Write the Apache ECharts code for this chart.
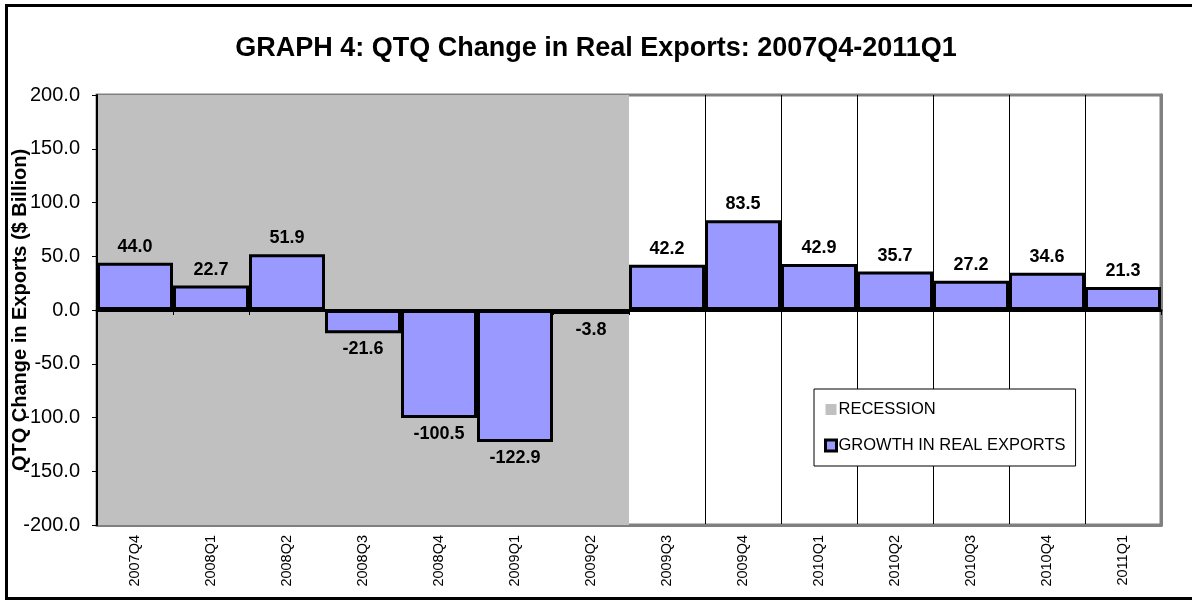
<!DOCTYPE html>
<html>
<head>
<meta charset="utf-8">
<title>GRAPH 4</title>
<script src="https://cdn.jsdelivr.net/npm/echarts@6/dist/echarts.min.js"></script>
<style>
    html, body { margin: 0; padding: 0; background: #fff; }
    #chart { width: 1192px; height: 601px; }
</style>
</head>
<body>
<div id="chart"></div>
<script>
const quarters = ['2007Q4', '2008Q1', '2008Q2', '2008Q3', '2008Q4', '2009Q1', '2009Q2',
    '2009Q3', '2009Q4', '2010Q1', '2010Q2', '2010Q3', '2010Q4', '2011Q1'];
const exportsGrowth = [44.0, 22.7, 51.9, -21.6, -100.5, -122.9, -3.8,
    42.2, 83.5, 42.9, 35.7, 27.2, 34.6, 21.3];
const recession = [1, 1, 1, 1, 1, 1, 1, 0, 0, 0, 0, 0, 0, 0]; // 1 = recession quarter
const yTicks = { min: -200, max: 200, step: 50 };

const FONT = '"Liberation Sans", Arial, sans-serif';
const BAR_COLOR = '#9999FF';
const GRAY = '#C0C0C0';

const myChart = echarts.init(document.getElementById('chart'));

// vertical grid lines only after the recession shading
const lastRecession = recession.lastIndexOf(1);

const option = {
    animation: false,
    textStyle: { fontFamily: FONT },
    title: {
        text: 'GRAPH 4: QTQ Change in Real Exports: 2007Q4-2011Q1',
        left: 'center',
        top: 30,
        textStyle: { fontFamily: FONT, fontSize: 27, fontWeight: 'bold', color: '#000' }
    },
    graphic: [{
        // outer frame of the picture
        type: 'rect',
        shape: { x: 6.5, y: 5.5, width: 1200, height: 593 },
        style: { fill: 'none', stroke: '#000', lineWidth: 3 },
        z: 100
    }],
    legend: {
        orient: 'vertical',
        left: 814,
        top: 389,
        width: 259,
        padding: [12, 10, 12, 10],
        itemGap: 19,
        itemWidth: 11,
        itemHeight: 11,
        icon: 'rect',
        backgroundColor: '#fff',
        borderColor: '#000',
        borderWidth: 1,
        textStyle: { fontFamily: FONT, fontSize: 16.5, color: '#000', padding: [0, 0, 0, -3] },
        data: [
            { name: 'RECESSION', itemStyle: { color: GRAY, borderWidth: 0 } },
            { name: 'GROWTH IN REAL EXPORTS', itemStyle: { color: BAR_COLOR, borderColor: '#000', borderWidth: 3 } }
        ]
    },
    grid: {
        left: 97,
        right: 31, // 14 bands of 76px
        top: 95,
        bottom: 76,
        containLabel: false,
        outerBoundsMode: 'none',
        show: true,
        borderColor: '#808080',
        borderWidth: 3,
        backgroundColor: 'transparent'
    },
    xAxis: [{
        type: 'category',
        data: quarters,
        position: 'bottom',
        z: 0,
        axisLine: { onZero: false, lineStyle: { color: '#808080', width: 3 } },
        axisTick: { show: false },
        axisLabel: {
            rotate: 90,
            interval: 0,
            margin: 10,
            fontSize: 14.5,
            color: '#000',
            fontFamily: FONT
        },
        splitLine: {
            show: true,
            interval: idx => idx > lastRecession + 1,
            lineStyle: { color: '#000', width: 1 }
        }
    }, {
        // zero line with small ticks, drawn above the recession shading
        type: 'category',
        data: quarters,
        position: 'top',
        z: 5,
        axisLine: { onZero: true, lineStyle: { color: '#000', width: 3 } },
        axisTick: { show: true, inside: true, length: 5, interval: 0, lineStyle: { color: '#000', width: 1 } },
        axisLabel: { show: false },
        splitLine: { show: false }
    }],
    yAxis: [{
        type: 'value',
        min: yTicks.min,
        max: yTicks.max,
        interval: yTicks.step,
        z: 5,
        name: 'QTQ Change in Exports ($ Billion)',
        nameLocation: 'middle',
        nameRotate: 90,
        nameGap: 67,
        nameMoveOverlap: false,
        nameTextStyle: { fontFamily: FONT, fontSize: 20, fontWeight: 'bold', color: '#000' },
        axisLine: { show: true, lineStyle: { color: '#000', width: 2 } },
        axisTick: { show: true, length: 5, lineStyle: { color: '#000', width: 1 } },
        axisLabel: {
            margin: 17,
            fontSize: 20,
            color: '#000',
            fontFamily: FONT,
            formatter: v => v.toFixed(1)
        },
        splitLine: { show: false }
    }, {
        // right border of the plot
        type: 'value',
        position: 'right',
        min: 0,
        max: 1,
        z: 0,
        axisLine: { show: true, lineStyle: { color: '#808080', width: 3 } },
        axisTick: { show: false },
        axisLabel: { show: false },
        splitLine: { show: false }
    }],
    series: [{
        name: 'RECESSION',
        type: 'bar',
        xAxisIndex: 0,
        yAxisIndex: 1,
        z: 1,
        barCategoryGap: 0,
        barGap: '-100%',
        itemStyle: { color: GRAY },
        data: recession
    }, {
        name: 'GROWTH IN REAL EXPORTS',
        type: 'bar',
        xAxisIndex: 0,
        yAxisIndex: 0,
        z: 2,
        barCategoryGap: 0,
        barGap: '-100%',
        itemStyle: { color: BAR_COLOR, borderColor: '#000', borderWidth: 3 },
        label: {
            show: true,
            distance: 7,
            fontFamily: FONT,
            fontSize: 18,
            fontWeight: 'bold',
            color: '#000',
            formatter: p => p.value.toFixed(1)
        },
        data: exportsGrowth.map(v => ({
            value: v,
            label: { position: v >= 0 ? 'top' : 'bottom' }
        }))
    }]
};

myChart.setOption(option);
</script>
</body>
</html>
